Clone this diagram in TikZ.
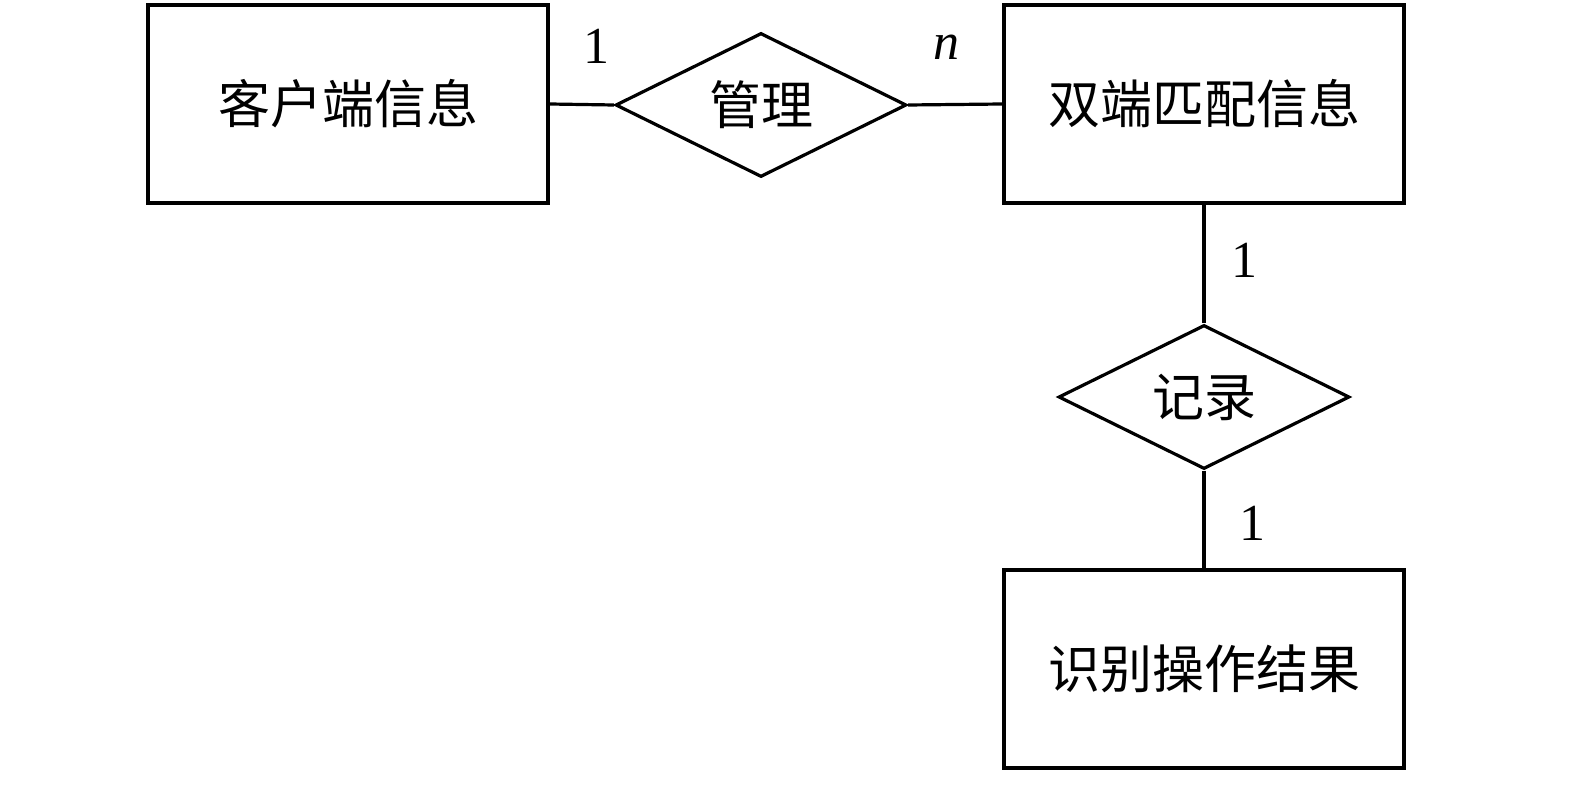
\documentclass[tikz,border=0pt]{standalone}
\usepackage{fontspec}
\setmainfont{Liberation Serif}
\newfontfamily\cjk{Noto Sans CJK SC}
\usetikzlibrary{shapes.geometric}
\begin{document}
\begin{tikzpicture}[x=1pt,y=-1pt,
  ent/.style={draw,line width=3.2pt,minimum width=400pt,minimum height=198pt,inner sep=0pt,font=\cjk\fontsize{52}{52}\selectfont},
  rel/.style={draw,diamond,line width=3.2pt,minimum width=291pt,minimum height=144pt,aspect=2,inner sep=0pt,font=\cjk\fontsize{52}{52}\selectfont},
  conn/.style={line width=3.2pt},
  card/.style={font=\fontsize{52}{52}\selectfont,inner sep=0pt}]
\useasboundingbox (0,0) rectangle (1575,799);
\node[ent] (kh) at (348,104) {客户端信息};
\node[ent] (sd) at (1204,104) {双端匹配信息};
\node[ent] (sb) at (1204,669) {识别操作结果};
\node[rel] (gl) at (761,105) {管理};
\node[rel] (jl) at (1204,397) {记录};
\draw[conn] (kh.east) -- (gl.west);
\draw[conn] (gl.east) -- (sd.west);
\draw[conn] (sd.south) -- (jl.north);
\draw[conn] (jl.south) -- (sb.north);
\node[card] (c1) at (596,46) {1};
\node[card] (c2) at (946,47) {\itshape n};
\node[card] (c3) at (1244,260) {1};
\node[card] (c4) at (1252,523) {1};
\end{tikzpicture}
\end{document}
